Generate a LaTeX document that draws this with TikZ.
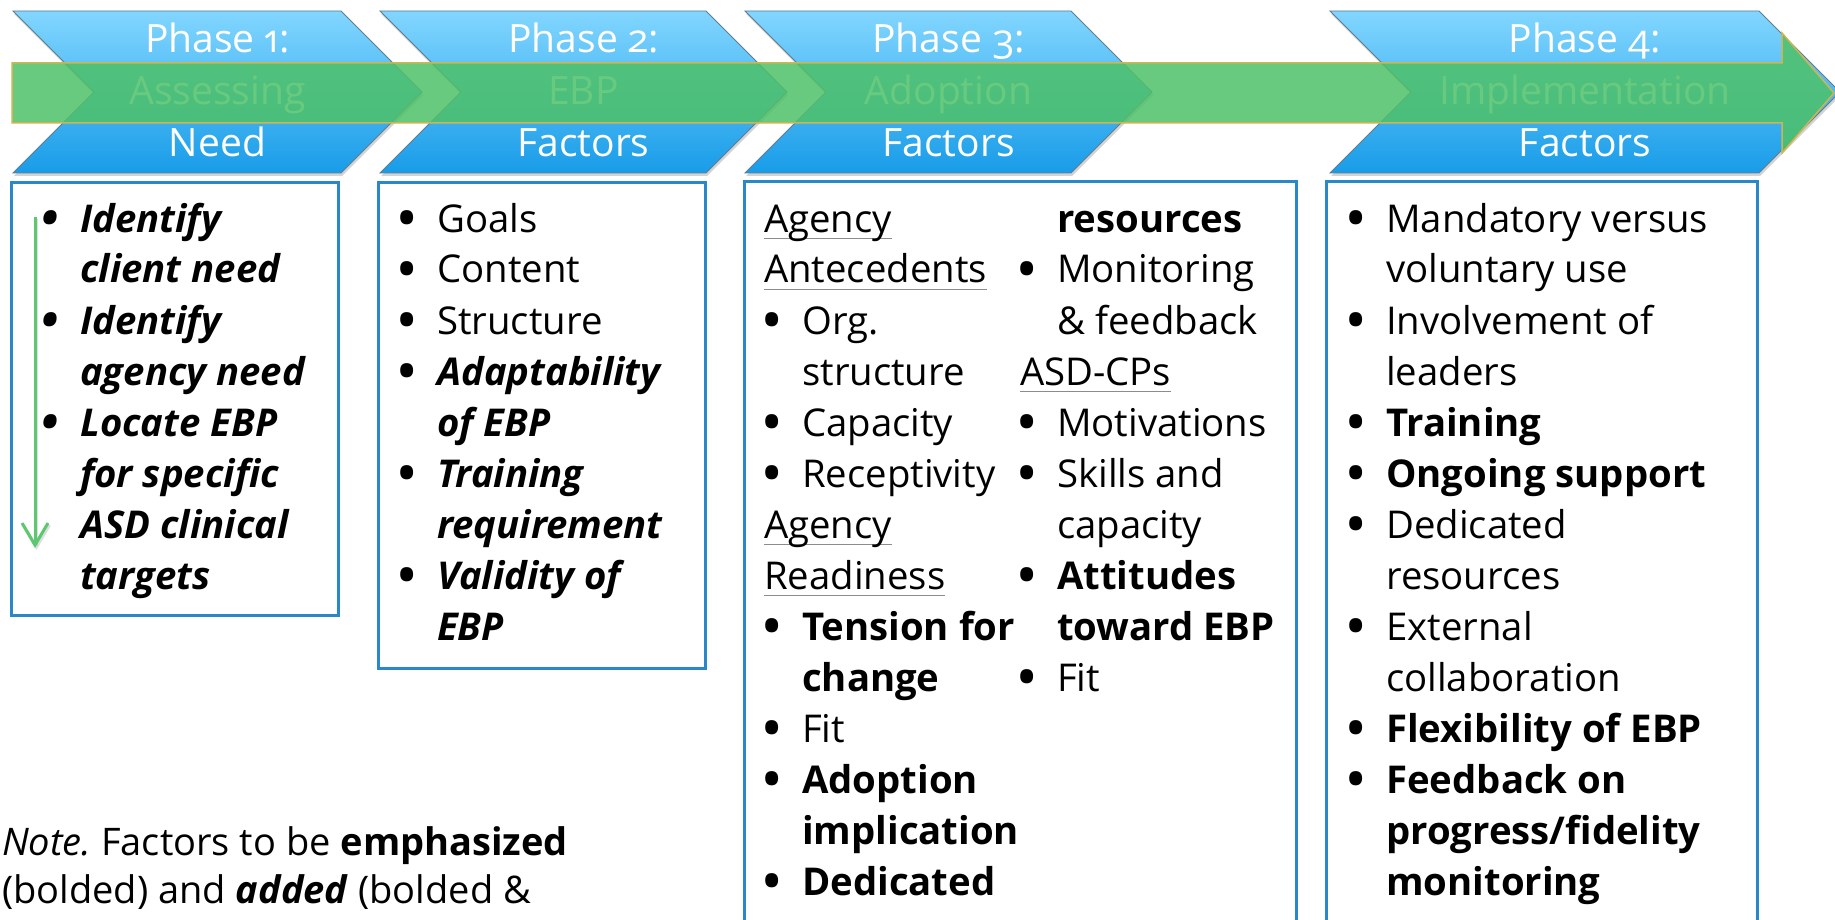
\documentclass[tikz,border=0pt]{standalone}
\usepackage{fontspec}
\setmainfont{Open Sans}[Numbers=OldStyle]
\usepackage{array}
\usetikzlibrary{arrows.meta,shadows}

\definecolor{chevtop}{RGB}{130,214,255}
\definecolor{chevbot}{RGB}{24,156,232}
\definecolor{chevline}{RGB}{95,125,145}
\definecolor{boxblue}{RGB}{40,136,200}
\definecolor{flowgreen}{RGB}{78,193,104}
\definecolor{flowedge}{RGB}{205,182,80}
\definecolor{rulegray}{RGB}{140,140,140}
\definecolor{downgreen}{RGB}{92,200,112}

\frenchspacing
% bullet hanging 30pt left of the item text
\newcommand\pbul{\llap{\makebox[0pt][c]{\raisebox{-2.5pt}{\fontsize{46}{51}\fontseries{b}\selectfont\textbullet}}\hspace{30pt}}}
% grey underline for the group headings
\newcommand\undl[1]{\setbox0\hbox{#1}\rlap{\textcolor{rulegray}{\rule[-7pt]{\wd0}{1.5pt}}}\box0}
\newcommand\grouphead[2]{\hspace*{-#1pt}\undl{#2}}

\tikzset{
  listbox/.style={draw=boxblue, line width=3pt, fill=white},
  listtext/.style={anchor=base west, inner sep=0pt, font=\fontsize{38.3}{51}\selectfont},
  chevshape/.style={top color=chevtop, bottom color=chevbot, draw=chevline, line width=0.8pt,
    drop shadow={opacity=0.35, shadow xshift=1pt, shadow yshift=-3pt}},
  chevtext/.style={anchor=base, inner sep=0pt, text=white, font=\fontsize{39}{52}\selectfont},
  flowarrow/.style={fill=flowgreen, fill opacity=0.85, draw=flowedge, line width=1.5pt,
    line join=miter},
  downarrow/.style={draw=downgreen, line width=3pt,
    -{Straight Barb[length=22pt,width=26pt,line width=3pt]}},
  notetext/.style={anchor=base west, inner sep=0pt, font=\fontsize{38}{48}\selectfont},
}

% chevron: name, left x, right x of the top edge, three label lines
\newcommand\chevron[6]{%
  \shade[chevshape] (#2,11) -- (#3,11) -- ({#3+81},92) -- (#3,173) -- (#2,173) -- ({#2+81},92) -- cycle;
  \pgfmathsetmacro\chevcx{(#2+81+#3)/2}
  \node[chevtext] (#1a) at (\chevcx,53) {#4};
  \node[chevtext] (#1b) at (\chevcx,105) {#5};
  \node[chevtext] (#1c) at (\chevcx,157) {#6};
}

\begin{document}
\begin{tikzpicture}[x=1pt, y=-1pt]
\useasboundingbox (0,0) rectangle (1835,920);
\clip (0,0) rectangle (1835,920);

% list boxes
\draw[listbox] (11,183) rectangle (338,615) node[coordinate] (box1) {};
\draw[listbox] (378,183) rectangle (705,668) node[coordinate] (box2) {};
\draw[listbox] (744,182) rectangle (1296,950) node[coordinate] (box3) {};
\draw[listbox] (1326,182) rectangle (1757,950) node[coordinate] (box4) {};

% phase chevrons
\chevron{c1}{13}{341}{Phase 1:}{Assessing}{Need}
\chevron{c2}{380}{706}{Phase 2:}{EBP}{Factors}
\chevron{c3}{745}{1071}{Phase 3:}{Adoption}{Factors}
\chevron{c4}{1330}{1759}{Phase 4:}{Implementation}{Factors}

% green process arrow across the phases
\draw[flowarrow] (12,63) -- (1782,63) -- (1782,33) -- (1834,93) -- (1782,153) -- (1782,123) -- (12,123) -- cycle;

% downward arrow in the first box
\coordinate (d1) at (35,217);
\coordinate (d2) at (35,548);
\draw[downarrow, draw=black!25, opacity=0.5, transform canvas={shift={(1.5pt,-2pt)}}] (d1) -- (d2);
\draw[downarrow] (d1) -- (d2);

% phase 1 items
\node[listtext] (t1) at (80,232) {\bfseries\itshape
\begin{tabular}[t]{@{}l@{}}
\pbul Identify\\
client need\\
\pbul Identify\\
agency need\\
\pbul Locate EBP\\
for specific\\
ASD clinical\\
targets
\end{tabular}};

% phase 2 items
\node[listtext] (t2) at (437,232) {%
\begin{tabular}[t]{@{}l@{}}
\pbul Goals\\
\pbul Content\\
\pbul Structure\\
\pbul\textbf{\textit{Adaptability}}\\
\textbf{\textit{of EBP}}\\
\pbul\textbf{\textit{Training}}\\
\textbf{\textit{requirement}}\\
\pbul\textbf{\textit{Validity of}}\\
\textbf{\textit{EBP}}
\end{tabular}};

% phase 3 items, left column
\node[listtext] (t3a) at (802,232) {%
\begin{tabular}[t]{@{}l@{}}
\grouphead{38}{Agency}\\
\grouphead{38}{Antecedents}\\
\pbul Org.\\
structure\\
\pbul Capacity\\
\pbul Receptivity\\
\grouphead{38}{Agency}\\
\grouphead{38}{Readiness}\\
\pbul\textbf{Tension for}\\
\textbf{change}\\
\pbul Fit\\
\pbul\textbf{Adoption}\\
\textbf{implication}\\
\pbul\textbf{Dedicated}
\end{tabular}};

% phase 3 items, right column
\node[listtext] (t3b) at (1057,232) {%
\begin{tabular}[t]{@{}l@{}}
\textbf{resources}\\
\pbul Monitoring\\
\& feedback\\
\grouphead{37}{ASD-CPs}\\
\pbul Motivations\\
\pbul Skills and\\
capacity\\
\pbul\textbf{Attitudes}\\
\textbf{toward EBP}\\
\pbul Fit
\end{tabular}};

% phase 4 items
\node[listtext] (t4) at (1386,232) {%
\begin{tabular}[t]{@{}l@{}}
\pbul Mandatory versus\\
voluntary use\\
\pbul Involvement of\\
leaders\\
\pbul\textbf{Training}\\
\pbul\textbf{Ongoing support}\\
\pbul Dedicated\\
resources\\
\pbul External\\
collaboration\\
\pbul\textbf{Flexibility of EBP}\\
\pbul\textbf{Feedback on}\\
\textbf{progress/fidelity}\\
\textbf{monitoring}
\end{tabular}};

% note
\node[notetext] (note) at (2,855) {%
\begin{tabular}[t]{@{}l@{}}
\textit{Note.} Factors to be \textbf{emphasized}\\
(bolded) and \textbf{\textit{added}} (bolded \&
\end{tabular}};
\end{tikzpicture}
\end{document}
